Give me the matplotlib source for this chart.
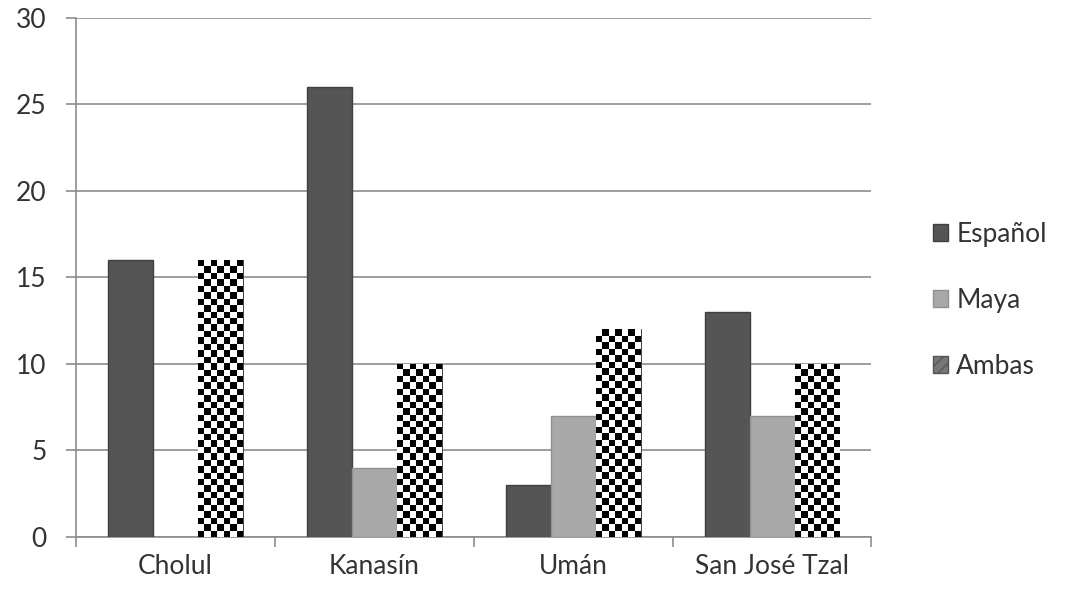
import matplotlib
matplotlib.use("Agg")
import matplotlib.pyplot as plt
import numpy as np
from matplotlib.patches import Patch

# data
categories = ["Cholul", "Kanasín", "Umán", "San José Tzal"]
espanol = [16, 26, 3, 13]
maya = [0, 4, 7, 7]
ambas = [16, 10, 12, 10]

plt.rcParams['font.family'] = ['Lato', 'DejaVu Sans']

fig = plt.figure(figsize=(10.68, 5.97), dpi=100)
ax = fig.add_axes([0.071, 0.1005, 0.745, 0.8695])

x = np.arange(len(categories))
w = 0.226

ax.bar(x - w, espanol, w, color="#555555", edgecolor="#404040", linewidth=1, zorder=3)
ax.bar(x, maya, w, color="#a8a8a8", edgecolor="#909090", linewidth=1, zorder=3)
amb = ax.bar(x + w, ambas, w, color="white", edgecolor="#222222", linewidth=0.6, zorder=3)

# checkerboard fill for "Ambas"
cell = 0.37  # value units per checker row
for rect in amb:
    x0, h = rect.get_x(), rect.get_height()
    nrows = int(round(h / cell))
    ncols = 7
    board = (np.add.outer(np.arange(nrows), np.arange(ncols)) % 2).astype(float)
    im = ax.imshow(board, cmap="gray", extent=(x0, x0 + w, 0, h), origin="lower",
                   interpolation="nearest", aspect="auto", zorder=4)
    im.set_clip_path(rect)
ax.set_xlim(-0.5, len(categories) - 0.5)
ax.set_ylim(0, 30)

ax.set_yticks(range(0, 31, 5))
ax.yaxis.grid(True, color="#8c8c8c", linewidth=1.2, zorder=0)
ax.set_axisbelow(True)

ax.set_xticks(x)
ax.set_xticklabels(categories)
ax.set_xticks(np.arange(-0.5, len(categories)), minor=True)
ax.tick_params(axis="x", which="major", length=0, pad=12, labelsize=19, colors="#333333")
ax.tick_params(axis="x", which="minor", length=7, color="#8c8c8c", width=1.2)
ax.tick_params(axis="y", length=7, color="#8c8c8c", width=1.2, pad=14, labelsize=19,
               colors="#333333")

for s in ["top", "right"]:
    ax.spines[s].set_visible(False)
for s in ["left", "bottom"]:
    ax.spines[s].set_color("#8c8c8c")
    ax.spines[s].set_linewidth(1.2)

handles = [Patch(facecolor="#555555", edgecolor="#404040"),
           Patch(facecolor="#a8a8a8", edgecolor="#909090"),
           Patch(facecolor="#777777", edgecolor="#555555", hatch="///")]
fig.legend(handles, ["Español", "Maya", "Ambas"], loc="center left",
           bbox_to_anchor=(0.851, 0.497), frameon=False, fontsize=19,
           handlelength=0.6, handleheight=0.6, handletextpad=0.3, labelspacing=1.55,
           labelcolor="#333333")

fig.savefig("out.png", dpi=100)
